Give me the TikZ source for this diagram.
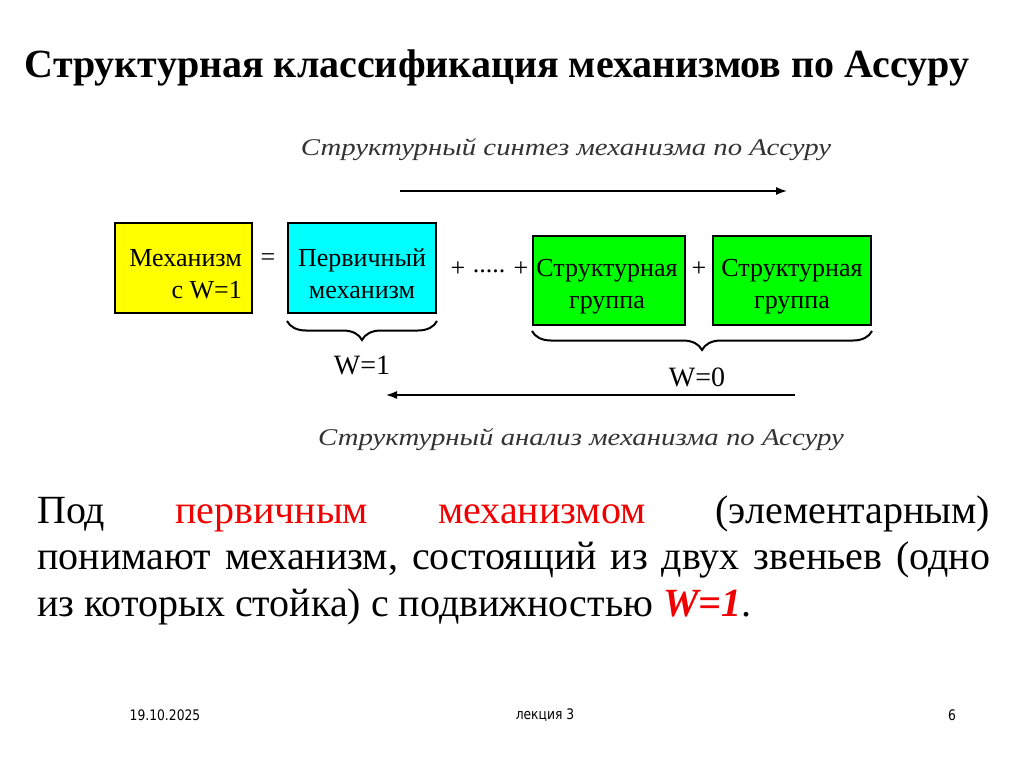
\documentclass[tikz,border=0pt]{standalone}
\usepackage{fontspec}
\setmainfont{Liberation Serif}
\newfontfamily\itlabel[FakeStretch=1.2]{Liberation Serif Italic}
\newfontfamily\boxfont[FakeStretch=1.0]{Liberation Serif}
\newfontfamily\footfont[FakeStretch=0.85]{DejaVu Sans}
\usetikzlibrary{decorations.pathreplacing,arrows.meta}
\definecolor{boxyellow}{RGB}{255,255,0}
\definecolor{boxcyan}{RGB}{0,255,255}
\definecolor{boxgreen}{RGB}{0,255,0}
\definecolor{txtred}{RGB}{240,0,0}
\tikzset{
  blockbox/.style={draw=black, line width=2pt, inner sep=0pt},
  boxtext/.style={inner sep=0pt, align=center, font=\boxfont\fontsize{26}{32}\selectfont},
  opsign/.style={inner sep=0pt, font=\fontsize{26}{28}\selectfont},
  flowarrow/.style={line width=1.5pt, -{Latex[length=11pt,width=8pt]}},
  bracedeco/.style={decorate, decoration={brace, mirror, amplitude=19pt, raise=0pt}, line width=2pt},
  wlabel/.style={inner sep=0pt, font=\fontsize{28}{30}\selectfont},
  itlab/.style={inner sep=0pt, font=\itlabel\fontsize{24}{30}\selectfont, text=black!80},
  foot/.style={inner sep=0pt, font=\footfont\fontsize{14.5}{16}\selectfont}
}
\begin{document}
\begin{tikzpicture}[x=1pt,y=-1pt]
\useasboundingbox (0,0) rectangle (1024,767);
\fill[white] (0,0) rectangle (1024,767);
% title
\node[inner sep=0pt, font=\bfseries\fontsize{40}{46}\selectfont] (title) at (497,68) {Структурная классификация механизмов по Ассуру};
% top label and arrow
\node[itlab] (synth) at (566,150) {Структурный синтез механизма по Ассуру};
\coordinate (sa) at (400,191);
\coordinate (sb) at (787,191);
\draw[flowarrow] (sa) -- (sb);
% boxes
\node[blockbox, fill=boxyellow, minimum width=137pt, minimum height=90pt] (mech) at (183.5,268) {};
\node[boxtext, align=right, anchor=east] (mecht) at (242,274) {Механизм\\с W=1};
\node[opsign] (eq) at (268,260) {=};
\node[blockbox, fill=boxcyan, minimum width=148pt, minimum height=90pt] (prim) at (362,268) {};
\node[boxtext] (primt) at (362,274) {Первичный\\механизм};
\node[opsign] (plus1) at (458,269) {+};
\node[opsign] (dots) at (489,271) {.....};
\node[opsign] (plus2) at (521,269) {+};
\node[blockbox, fill=boxgreen, minimum width=152pt, minimum height=89pt] (g1) at (609,280.5) {};
\node[boxtext] (g1t) at (607,287) {Структурная\\группа};
\node[opsign] (plus3) at (699,269) {+};
\node[blockbox, fill=boxgreen, minimum width=158pt, minimum height=89pt] (g2) at (792,280.5) {};
\node[boxtext] (g2t) at (792,287) {Структурная\\группа};
% braces
\draw[bracedeco] ([yshift=-7pt]prim.south west) -- ([yshift=-7pt]prim.south east);
\node[wlabel] (w1) at (362,365) {W=1};
\draw[bracedeco] ([yshift=-5pt]g1.south west) -- ([yshift=-5pt]g2.south east);
\node[wlabel] (w0) at (697,377) {W=0};
% bottom arrow and label
\coordinate (ba) at (795,395);
\coordinate (bb) at (386,395);
\draw[flowarrow] (ba) -- (bb);
\node[itlab] (anal) at (581,440) {Структурный анализ механизма по Ассуру};
% paragraph
\node[anchor=base west, inner sep=0pt, font=\fontsize{40}{46}\selectfont] (l1) at (37,523)
  {\makebox[953pt][s]{Под\hfill\textcolor{txtred}{первичным}\hfill\textcolor{txtred}{механизмом}\hfill(элементарным)}};
\node[anchor=base west, inner sep=0pt, font=\fontsize{40}{46}\selectfont] (l2) at (37,569.5)
  {\makebox[953pt][s]{понимают\hfill механизм,\hfill состоящий\hfill из\hfill двух\hfill звеньев\hfill (одно}};
\node[anchor=base west, inner sep=0pt, font=\fontsize{40}{46}\selectfont] (l3) at (37,616)
  {из которых стойка) с подвижностью \textcolor{txtred}{\textbf{\textit{W=1}}}.};
% footer
\node[foot] (date) at (165,715) {19.10.2025};
\node[foot] (lect) at (545,715) {лекция 3};
\node[foot] (page) at (952,715) {6};
\end{tikzpicture}
\end{document}
